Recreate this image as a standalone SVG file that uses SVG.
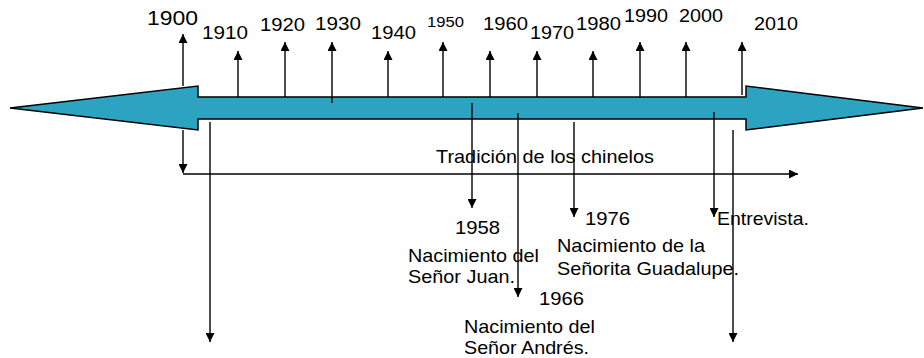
<svg xmlns="http://www.w3.org/2000/svg" width="924" height="358" viewBox="0 0 924 358">
<style>
text{font-family:"Liberation Sans",Arial,sans-serif;fill:#000;}
.y{font-size:18px;}
.t{font-size:19px;}
.c{stroke:#000;stroke-width:1.4;fill:none;}
.big{fill:#2ca3c1;stroke:#000;stroke-width:1.5;stroke-linejoin:miter;}
</style>
<defs>
<marker id="ah" viewBox="0 0 10 10" refX="10" refY="5" markerWidth="9" markerHeight="9" markerUnits="userSpaceOnUse" orient="auto">
<path d="M0,0 L10,5 L0,10 Z" fill="#000"/>
</marker>
</defs>
<rect width="924" height="358" fill="#fff"/>
<g id="timeline-arrow">
<polygon class="big" points="10,108 198,86 198,97 746,97 746,86 923,108 746,130 746,119 198,119 198,130"/>
</g>
<g id="connectors">
<line class="c" x1="183" y1="86" x2="183" y2="34" marker-end="url(#ah)"/>
<line class="c" x1="238" y1="97" x2="238" y2="51" marker-end="url(#ah)"/>
<line class="c" x1="285" y1="97" x2="285" y2="42" marker-end="url(#ah)"/>
<line class="c" x1="332" y1="103" x2="332" y2="42" marker-end="url(#ah)"/>
<line class="c" x1="388" y1="97" x2="388" y2="51" marker-end="url(#ah)"/>
<line class="c" x1="443" y1="97" x2="443" y2="42" marker-end="url(#ah)"/>
<line class="c" x1="490" y1="97" x2="490" y2="51" marker-end="url(#ah)"/>
<line class="c" x1="537" y1="97" x2="537" y2="51" marker-end="url(#ah)"/>
<line class="c" x1="593" y1="97" x2="593" y2="51" marker-end="url(#ah)"/>
<line class="c" x1="640" y1="97" x2="640" y2="42" marker-end="url(#ah)"/>
<line class="c" x1="686" y1="97" x2="686" y2="42" marker-end="url(#ah)"/>
<line class="c" x1="742" y1="95" x2="742" y2="42" marker-end="url(#ah)"/>
<line class="c" x1="183" y1="130" x2="183" y2="173" marker-end="url(#ah)"/>
<line class="c" x1="183" y1="174" x2="798" y2="174" marker-end="url(#ah)"/>
<line class="c" x1="210" y1="122" x2="210" y2="342" marker-end="url(#ah)"/>
<line class="c" x1="472" y1="103" x2="472" y2="208" marker-end="url(#ah)"/>
<line class="c" x1="518" y1="113" x2="518" y2="297" marker-end="url(#ah)"/>
<line class="c" x1="574" y1="122" x2="574" y2="217" marker-end="url(#ah)"/>
<line class="c" x1="714" y1="112" x2="714" y2="217" marker-end="url(#ah)"/>
<line class="c" x1="733" y1="130" x2="733" y2="342" marker-end="url(#ah)"/>
</g>
<g id="years">
<text x="147" y="25" style="font-size:20px" textLength="51" lengthAdjust="spacingAndGlyphs">1900</text>
<text class="y" x="202" y="39" textLength="46" lengthAdjust="spacingAndGlyphs">1910</text>
<text class="y" x="260" y="31" textLength="45" lengthAdjust="spacingAndGlyphs">1920</text>
<text class="y" x="315" y="30" textLength="46" lengthAdjust="spacingAndGlyphs">1930</text>
<text class="y" x="371" y="39" textLength="45" lengthAdjust="spacingAndGlyphs">1940</text>
<text x="427" y="27" style="font-size:15px" textLength="37" lengthAdjust="spacingAndGlyphs">1950</text>
<text class="y" x="483" y="30" textLength="45" lengthAdjust="spacingAndGlyphs">1960</text>
<text class="y" x="530" y="39" textLength="44" lengthAdjust="spacingAndGlyphs">1970</text>
<text class="y" x="576" y="30" textLength="45" lengthAdjust="spacingAndGlyphs">1980</text>
<text class="y" x="624" y="22" textLength="44" lengthAdjust="spacingAndGlyphs">1990</text>
<text class="y" x="679" y="22" textLength="44" lengthAdjust="spacingAndGlyphs">2000</text>
<text class="y" x="754" y="30" textLength="44" lengthAdjust="spacingAndGlyphs">2010</text>
</g>
<g id="tradicion">
<text class="t" x="436" y="163" textLength="218" lengthAdjust="spacingAndGlyphs">Tradición de los chinelos</text>
</g>
<g id="event-1958">
<text class="t" x="455" y="234" textLength="45" lengthAdjust="spacingAndGlyphs">1958</text>
<text class="t" x="408" y="262" textLength="131" lengthAdjust="spacingAndGlyphs">Nacimiento del</text>
<text class="t" x="408" y="283" textLength="107" lengthAdjust="spacingAndGlyphs">Señor Juan.</text>
</g>
<g id="event-1966">
<text class="t" x="539" y="305" textLength="45" lengthAdjust="spacingAndGlyphs">1966</text>
<text class="t" x="464" y="333" textLength="131" lengthAdjust="spacingAndGlyphs">Nacimiento del</text>
<text class="t" x="464" y="354" textLength="125" lengthAdjust="spacingAndGlyphs">Señor Andrés.</text>
</g>
<g id="event-1976">
<text class="t" x="585" y="225" textLength="45" lengthAdjust="spacingAndGlyphs">1976</text>
<text class="t" x="557" y="252" textLength="148" lengthAdjust="spacingAndGlyphs">Nacimiento de la</text>
<text class="t" x="557" y="275" textLength="182" lengthAdjust="spacingAndGlyphs">Señorita Guadalupe.</text>
</g>
<g id="event-entrevista">
<text class="t" x="717" y="225" textLength="92" lengthAdjust="spacingAndGlyphs">Entrevista.</text>
</g>
</svg>
